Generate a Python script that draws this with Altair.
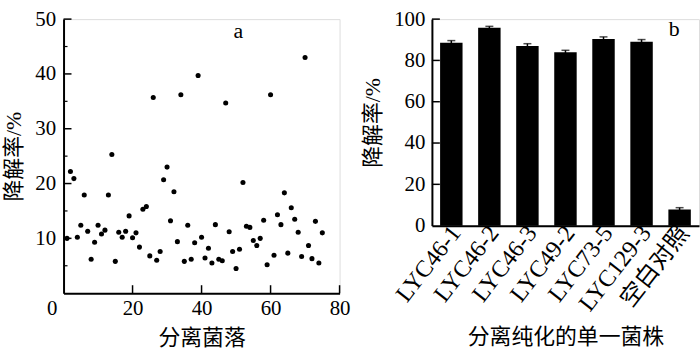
import altair as alt
import pandas as pd

# ---------------- data ----------------
colony_id = list(range(1, 76))
colony_rate = [
    10.0, 22.2, 20.9, 10.2, 12.4, 17.9, 11.3, 6.2, 9.3, 12.4,
    10.8, 11.5, 17.9, 25.3, 5.8, 11.1, 10.2, 11.3, 14.1, 10.1,
    11.0, 8.4, 15.3, 15.8, 6.8, 35.7, 6.0, 7.6, 20.7, 23.0,
    13.2, 18.5, 9.4, 36.2, 5.8, 12.4, 6.2, 9.2, 39.7, 10.2,
    6.4, 8.2, 5.5, 12.5, 6.2, 5.9, 34.7, 11.2, 7.6, 4.5,
    8.0, 20.2, 12.2, 12.0, 9.6, 8.7, 10.0, 13.3, 5.2, 36.2,
    6.9, 14.3, 12.5, 18.3, 7.3, 15.6, 13.5, 11.1, 6.7, 43.0,
    8.7, 6.3, 13.1, 5.5, 11.0,
]
strains = ["LYC46-1", "LYC46-2", "LYC46-3", "LYC49-2", "LYC73-5", "LYC129-3", "空白对照"]
strain_rate = [88.6, 95.8, 87.0, 84.0, 90.4, 89.0, 7.8]
strain_err = [1.0, 0.7, 1.1, 0.9, 1.0, 1.1, 0.9]

left_x_ticks = [20, 40, 60, 80]
left_y_major = [10, 20, 30, 40, 50]
left_y_minor = [5, 15, 25, 35, 45]
right_y_ticks = [20, 40, 60, 80, 100]

FONT = "Liberation Serif, Noto Sans CJK SC"
LBL = 21
TTL = 22

ax_common = dict(
    grid=False, ticks=False, tickSize=0, domainColor="black", domainWidth=2,
    labelColor="black", labelFont=FONT, titleFont=FONT,
    titleFontSize=TTL, titleFontWeight="normal", titleColor="black",
    labelFlush=False, labelOverlap=False, labelBound=False,
)

# ---------------- left panel ----------------
W1, H1 = 278, 276
xs = alt.Scale(domain=[0, 80], nice=False, zero=False)
ys = alt.Scale(domain=[0, 50], nice=False)

AXL_X = alt.Axis(values=[0, 20, 40, 60, 80], title="分离菌落", labelFontSize=LBL, labelPadding=4,
                 titlePadding=10,
                 labelOffset={"condition": {"test": "datum.value == 0", "value": -12}, "value": 0},
                 **ax_common)
AXL_Y = alt.Axis(values=left_y_major, title="降解率/%", labelFontSize=LBL, labelPadding=8,
                 titlePadding=9, **ax_common)

sc = pd.DataFrame({"x": colony_id, "y": colony_rate})

pts = alt.Chart(sc).mark_circle(size=26, color="black", opacity=1).encode(
    x=alt.X("x:Q", scale=xs, axis=AXL_X),
    y=alt.Y("y:Q", scale=ys, axis=AXL_Y),
)
xt = alt.Chart(pd.DataFrame({"v": left_x_ticks})).mark_rule(color="black", strokeWidth=1.5).encode(
    x=alt.X("v:Q", scale=xs, axis=AXL_X), y=alt.value(H1), y2=alt.value(H1 - 8))
ytm = alt.Chart(pd.DataFrame({"v": left_y_major})).mark_rule(color="black", strokeWidth=1.5).encode(
    y=alt.Y("v:Q", scale=ys, axis=AXL_Y), x=alt.value(0), x2=alt.value(8))
ytn = alt.Chart(pd.DataFrame({"v": left_y_minor})).mark_rule(color="black", strokeWidth=1.2).encode(
    y=alt.Y("v:Q", scale=ys, axis=AXL_Y), x=alt.value(0), x2=alt.value(4))
ta = alt.Chart(pd.DataFrame({"t": ["a"]})).mark_text(
    font=FONT, fontSize=22, color="black", align="center", baseline="middle").encode(
    text="t:N", x=alt.value(176), y=alt.value(12))

left = alt.layer(pts, xt, ytm, ytn, ta).properties(width=W1, height=H1)

# ---------------- right panel ----------------
W2, H2 = 269, 208
bdf = pd.DataFrame({"s": strains, "v": strain_rate, "e": strain_err})
bdf["hi"] = bdf["v"] + bdf["e"]
bdf["lo"] = bdf["v"] - bdf["e"]

bx = alt.Scale(paddingInner=0.41, paddingOuter=0.215)
by = alt.Scale(domain=[0, 100], nice=False)

AXR_X = alt.Axis(title="分离纯化的单一菌株", labelAngle=308, labelFontSize=24, labelPadding=3,
                 labelOffset=5, labelAlign="right", labelBaseline="middle",
                 titlePadding=11, **ax_common)
AXR_Y = alt.Axis(values=[0] + right_y_ticks, title="降解率/%", labelFontSize=LBL, labelPadding=7,
                 titlePadding=9, **ax_common)

bars = alt.Chart(bdf).mark_bar(color="black").encode(
    x=alt.X("s:N", sort=strains, scale=bx, axis=AXR_X),
    y=alt.Y("v:Q", scale=by, axis=AXR_Y),
)
err = alt.Chart(bdf).mark_rule(color="black", strokeWidth=1.5).encode(
    x=alt.X("s:N", sort=strains, scale=bx, axis=AXR_X),
    y=alt.Y("lo:Q", scale=by, axis=AXR_Y), y2="hi:Q")
cap = alt.Chart(bdf).mark_tick(color="black", size=8, thickness=1.5, orient="horizontal").encode(
    x=alt.X("s:N", sort=strains, scale=bx, axis=AXR_X),
    y=alt.Y("hi:Q", scale=by, axis=AXR_Y))
rt = alt.Chart(pd.DataFrame({"v": right_y_ticks})).mark_rule(color="black", strokeWidth=1.5).encode(
    y=alt.Y("v:Q", scale=by, axis=AXR_Y), x=alt.value(0), x2=alt.value(8))
tb = alt.Chart(pd.DataFrame({"t": ["b"]})).mark_text(
    font=FONT, fontSize=22, color="black", align="center", baseline="middle").encode(
    text="t:N", x=alt.value(244), y=alt.value(10))

right = alt.layer(bars, err, cap, rt, tb).properties(width=W2, height=H2)

chart = alt.hconcat(left, right, spacing=11).properties(
    padding={"left": 2, "top": 6, "right": 0, "bottom": 0}
).configure_view(stroke=None).configure(font=FONT)

chart.save("out.html", embed_options={"renderer": "svg", "actions": False})
